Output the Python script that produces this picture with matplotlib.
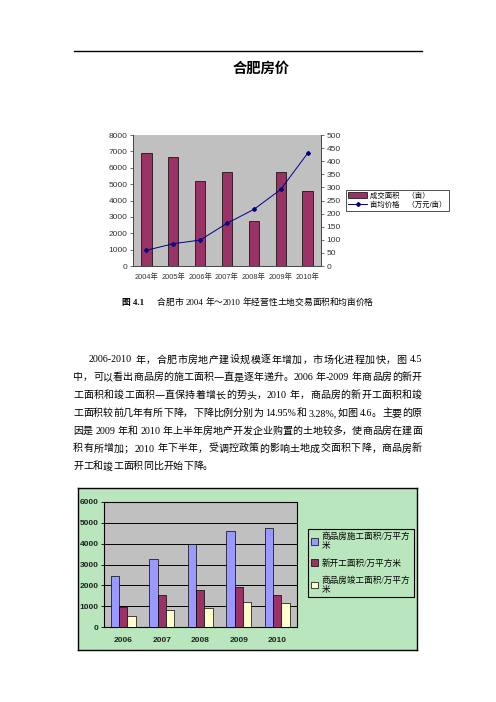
import re
import matplotlib
matplotlib.use('Agg')
import matplotlib.pyplot as plt
from matplotlib.lines import Line2D
from matplotlib.patches import Patch

W, H = 496, 702

# chart 1: land deals 2004-2010
years1 = ['2004年', '2005年', '2006年', '2007年', '2008年', '2009年', '2010年']
deal_area = [6900, 6650, 5200, 5750, 2750, 5750, 4600]
avg_price = [60, 85, 99, 163, 216, 292, 430]

# chart 2: housing construction 2006-2010
years2 = ['2006', '2007', '2008', '2009', '2010']
under_constr = [2450, 3280, 3970, 4590, 4770]
new_started = [960, 1560, 1800, 1900, 1560]
completed = [510, 800, 900, 1220, 1130]
labels2 = ['商品房施工面积/万平方\n米', '新开工面积/万平方米', '商品房竣工面积/万平方\n米']

paragraph = [
    '2006-2010 年，合肥市房地产建设规模逐年增加，市场化进程加快，图 4.5',
    '中，可以看出商品房的施工面积一直是逐年递升。2006 年-2009 年商品房的新开',
    '工面积和竣工面积一直保持着增长的势头，2010 年，商品房的新开工面积和竣',
    '工面积较前几年有所下降，下降比例分别为 14.95%和 3.28%,如图 4.6。主要的原',
    '因是 2009 年和 2010 年上半年房地产开发企业购置的土地较多，使商品房在建面',
    '积有所增加；2010 年下半年，受调控政策的影响土地成交面积下降，商品房新',
    '开工和竣工面积同比开始下降。',
]

sans = ['Liberation Sans', 'Noto Sans CJK SC']
serif = ['Liberation Serif', 'Noto Sans CJK SC']
plt.rcParams['font.family'] = sans

fig = plt.figure(figsize=(W / 100, H / 100), dpi=100)
renderer = fig.canvas.get_renderer()


def px_axes(l, t, r, b):
    return fig.add_axes([l / W, 1 - b / H, (r - l) / W, (b - t) / H])


def put_line(s, x0, x1, y, fs, justify=True, **kw):
    # place a line token by token so it fills x0..x1 like justified text
    tokens = re.findall(r'[\x21-\x7e]+|[^\x00-\x7f]| ', s)
    items = []
    for tok in tokens:
        if tok == ' ':
            items.append((None, fs * 100 / 72 * 0.25))
        else:
            t = fig.text(0, 1 - y / H, tok, fontsize=fs, family=serif,
                         va='baseline', **kw)
            items.append((t, t.get_window_extent(renderer).width))
    gap = 0
    if justify and len(items) > 1:
        gap = ((x1 - x0) - sum(w for _, w in items)) / (len(items) - 1)
    x = x0
    for t, w in items:
        if t is not None:
            t.set_x(x / W)
        x += w + gap


# header rule and title
fig.add_artist(Line2D([74 / W, 422 / W], [1 - 51 / H] * 2, color='black', lw=1))
fig.text(261 / W, 1 - 69 / H, '合肥房价', fontsize=10.3, fontweight='bold',
         family=sans, ha='center', va='center')

# ---- chart 1
ax1 = px_axes(133, 135, 321, 266)
ax1.set_facecolor('#C0C0C0')
x1 = range(len(years1))
ax1.bar(x1, deal_area, width=0.38, color='#993366', edgecolor='black', lw=0.5)
ax1.set_xlim(-0.5, len(years1) - 0.5)
ax1.set_ylim(0, 8000)
ax1.set_yticks(range(0, 8001, 1000))
ax1.set_xticks(list(x1))
ax1.set_xticklabels(years1)
ax1.tick_params(labelsize=6, length=2, width=0.5, colors='#333333', pad=2)
ax1.tick_params(axis='x', length=0, pad=5, labelsize=5.3)
ax1.spines['top'].set_visible(False)
for s in ax1.spines.values():
    s.set_linewidth(0.6)
    s.set_color('#444444')

ax1b = ax1.twinx()
ax1b.plot(x1, avg_price, color='#000080', lw=0.7, marker='D', ms=2)
ax1b.set_ylim(0, 500)
ax1b.set_yticks(range(0, 501, 50))
ax1b.tick_params(labelsize=6, length=2, width=0.5, colors='#333333', pad=2)
ax1b.spines['top'].set_visible(False)
for s in ax1b.spines.values():
    s.set_linewidth(0.6)
    s.set_color('#444444')

h1 = [Patch(facecolor='#993366', edgecolor='black', lw=0.5),
      Line2D([], [], color='#000080', lw=0.7, marker='D', ms=2)]
leg1 = fig.legend(h1, ['成交面积    （亩）', '亩均价格    （万元/亩）'],
                  loc='upper left', bbox_to_anchor=(346 / W, 1 - 190 / H),
                  prop={'family': sans, 'size': 5.3}, frameon=True,
                  fancybox=False, edgecolor='black', handlelength=2.6,
                  handleheight=0.7, handletextpad=0.4, borderpad=0.3,
                  labelspacing=0.25, borderaxespad=0)
leg1.get_frame().set_linewidth(0.6)

# caption
fig.text(122 / W, 1 - 305 / H, '图 4.1', fontsize=6.3, fontweight='bold',
         family=serif, va='baseline')
put_line('合肥市 2004 年～2010 年经营性土地交易面积和均亩价格', 157, 373, 305, 6.3)

# paragraph
for i, line in enumerate(paragraph):
    y = 362.5 + i * 17.8
    x0 = 89 if i == 0 else 73
    put_line(line, x0, 422, y, 7.2, justify=(i < len(paragraph) - 1))

# ---- chart 2
frame = px_axes(78, 488, 417, 650)
frame.set_facecolor('#B9E6BC')
frame.set_xticks([])
frame.set_yticks([])
for s in frame.spines.values():
    s.set_linewidth(1)

ax2 = px_axes(104, 502, 296.5, 627)
ax2.set_facecolor('#C0C0C0')
x2 = list(range(len(years2)))
bw = 0.216
ax2.bar([v - bw for v in x2], under_constr, width=bw, color='#9999FF',
        edgecolor='black', lw=0.5, zorder=3)
ax2.bar(x2, new_started, width=bw, color='#993366',
        edgecolor='black', lw=0.5, zorder=3)
ax2.bar([v + bw for v in x2], completed, width=bw, color='#FFFFCC',
        edgecolor='black', lw=0.5, zorder=3)
ax2.set_xlim(-0.5, len(years2) - 0.5)
ax2.set_ylim(0, 6000)
ax2.set_yticks(range(0, 6001, 1000))
ax2.set_xticks(x2)
ax2.set_xticklabels(years2)
ax2.grid(axis='y', color='black', lw=0.7, zorder=0)
ax2.set_axisbelow(True)
ax2.tick_params(labelsize=6, length=2, width=0.6, pad=2, labelcolor='#222222')
ax2.tick_params(axis='x', length=0, pad=7)
for lab in ax2.get_xticklabels() + ax2.get_yticklabels():
    lab.set_fontweight('bold')
for s in ax2.spines.values():
    s.set_linewidth(0.8)

h2 = [Patch(facecolor=c, edgecolor='black', lw=0.5)
      for c in ['#9999FF', '#993366', '#FFFFCC']]
leg2 = fig.legend(h2, labels2, loc='upper left',
                  bbox_to_anchor=(308 / W, 1 - 529 / H),
                  prop={'family': serif, 'size': 6.2}, frameon=True,
                  fancybox=False, edgecolor='black', facecolor='#B9E6BC',
                  framealpha=1, handlelength=0.8, handleheight=0.8,
                  handletextpad=0.4, borderpad=0.4, labelspacing=1.0,
                  borderaxespad=0)
leg2.get_frame().set_linewidth(0.8)

fig.savefig('out.png', dpi=100, facecolor='white')
